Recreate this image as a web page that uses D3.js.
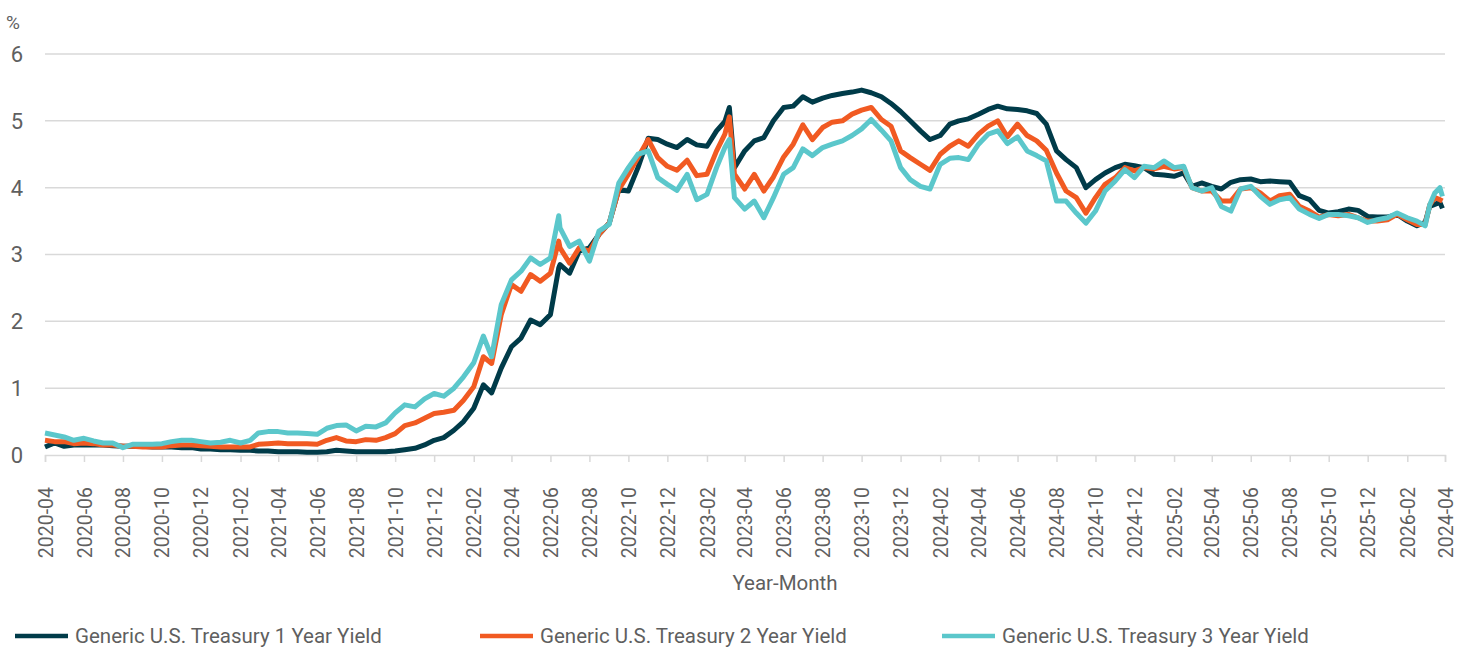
<!DOCTYPE html>
<html>
<head>
<meta charset="utf-8">
<script src="https://cdn.jsdelivr.net/npm/d3@7"></script>
<style>
  body { margin: 0; background: #fff; }
  svg text { font-family: Roboto, "Noto Sans", sans-serif; fill: #5f5f5f; }
</style>
</head>
<body>
<script>
// data (semi-monthly samples plus a few spike dates)
const dates = [
  "2020-04-01","2020-04-16","2020-05-01","2020-05-16","2020-06-01","2020-06-16","2020-07-01","2020-07-16",
  "2020-08-01","2020-08-16","2020-09-01","2020-09-16","2020-10-01","2020-10-16","2020-11-01","2020-11-16",
  "2020-12-01","2020-12-16","2021-01-01","2021-01-16","2021-02-01","2021-02-16","2021-03-01","2021-03-16",
  "2021-04-01","2021-04-16","2021-05-01","2021-05-16","2021-06-01","2021-06-16","2021-07-01","2021-07-16",
  "2021-08-01","2021-08-16","2021-09-01","2021-09-16","2021-10-01","2021-10-16","2021-11-01","2021-11-16",
  "2021-12-01","2021-12-16","2022-01-01","2022-01-16","2022-02-01","2022-02-16","2022-03-01","2022-03-16",
  "2022-04-01","2022-04-16","2022-05-01","2022-05-16","2022-06-01","2022-06-14","2022-06-16","2022-07-01",
  "2022-07-16","2022-08-01","2022-08-16","2022-09-01","2022-09-16","2022-10-01","2022-10-16","2022-11-01",
  "2022-11-16","2022-12-01","2022-12-16","2023-01-01","2023-01-16","2023-02-01","2023-02-16","2023-03-01",
  "2023-03-08","2023-03-16","2023-04-01","2023-04-16","2023-05-01","2023-05-16","2023-06-01","2023-06-16",
  "2023-07-01","2023-07-16","2023-08-01","2023-08-16","2023-09-01","2023-09-16","2023-10-01","2023-10-16",
  "2023-11-01","2023-11-16","2023-12-01","2023-12-16","2024-01-01","2024-01-16","2024-02-01","2024-02-16",
  "2024-03-01","2024-03-16","2024-04-01","2024-04-16","2024-05-01","2024-05-16","2024-06-01","2024-06-16",
  "2024-07-01","2024-07-16","2024-08-01","2024-08-16","2024-09-01","2024-09-16","2024-10-01","2024-10-16",
  "2024-11-01","2024-11-16","2024-12-01","2024-12-16","2025-01-01","2025-01-16","2025-02-01","2025-02-16",
  "2025-03-01","2025-03-16","2025-04-01","2025-04-16","2025-05-01","2025-05-16","2025-06-01","2025-06-16",
  "2025-07-01","2025-07-16","2025-08-01","2025-08-16","2025-09-01","2025-09-16","2025-10-01","2025-10-16",
  "2025-11-01","2025-11-16","2025-12-01","2025-12-16","2026-01-01","2026-01-16","2026-02-01","2026-02-16",
  "2026-03-01","2026-03-08","2026-03-16","2026-03-24","2026-03-28"
];
const yield1Y = [
  0.12,0.18,0.13,0.15,0.15,0.15,0.15,0.14, 0.13,0.13,0.13,0.12,0.12,0.12,0.11,0.11,
  0.09,0.09,0.08,0.08,0.07,0.07,0.06,0.06, 0.05,0.05,0.05,0.04,0.04,0.05,0.07,0.06,
  0.05,0.05,0.05,0.05,0.06,0.08,0.10,0.15, 0.22,0.26,0.37,0.50,0.70,1.05,0.93,1.30,
  1.62,1.75,2.02,1.95,2.10,2.80,2.85,2.72, 3.05,3.10,3.30,3.47,3.97,3.95,4.30,4.74,
  4.72,4.65,4.60,4.72,4.64,4.62,4.85,4.99, 5.20,4.30,4.55,4.70,4.75,5.00,5.20,5.22,
  5.36,5.28,5.34,5.38,5.41,5.43,5.46,5.42, 5.36,5.26,5.14,5.00,4.85,4.72,4.78,4.95,
  5.00,5.03,5.10,5.17,5.22,5.18,5.17,5.15, 5.11,4.95,4.55,4.42,4.30,4.00,4.12,4.22,
  4.30,4.35,4.33,4.30,4.20,4.19,4.17,4.22, 4.02,4.07,4.02,3.98,4.08,4.12,4.13,4.09,
  4.10,4.09,4.08,3.88,3.82,3.66,3.62,3.64, 3.68,3.66,3.57,3.56,3.56,3.60,3.50,3.43,
  3.48,3.72,3.75,3.78,3.69
];
const yield2Y = [
  0.22,0.20,0.20,0.17,0.18,0.17,0.15,0.15, 0.13,0.13,0.12,0.12,0.12,0.14,0.15,0.15,
  0.14,0.13,0.12,0.12,0.12,0.12,0.16,0.17, 0.18,0.17,0.17,0.17,0.16,0.22,0.26,0.21,
  0.20,0.23,0.22,0.26,0.32,0.44,0.48,0.55, 0.62,0.64,0.67,0.82,1.02,1.47,1.37,2.10,
  2.55,2.45,2.70,2.60,2.72,3.20,3.10,2.87, 3.10,3.05,3.30,3.47,3.97,4.20,4.45,4.72,
  4.45,4.32,4.26,4.41,4.18,4.20,4.55,4.80, 5.06,4.20,3.98,4.20,3.95,4.16,4.46,4.65,
  4.94,4.72,4.90,4.98,5.00,5.10,5.16,5.20, 5.02,4.92,4.55,4.45,4.35,4.26,4.50,4.62,
  4.70,4.62,4.80,4.92,5.00,4.76,4.95,4.78, 4.70,4.56,4.22,3.95,3.85,3.62,3.85,4.05,
  4.15,4.30,4.25,4.30,4.28,4.32,4.28,4.30, 4.00,3.95,3.95,3.80,3.80,3.98,4.00,3.92,
  3.80,3.88,3.90,3.72,3.65,3.56,3.60,3.58, 3.60,3.55,3.50,3.50,3.52,3.60,3.52,3.45,
  3.45,3.74,3.85,3.82,3.80
];
const yield3Y = [
  0.33,0.30,0.27,0.22,0.25,0.21,0.18,0.18, 0.11,0.16,0.16,0.16,0.17,0.20,0.22,0.22,
  0.20,0.18,0.19,0.22,0.18,0.22,0.33,0.35, 0.35,0.33,0.33,0.32,0.31,0.40,0.44,0.45,
  0.36,0.43,0.42,0.48,0.63,0.75,0.72,0.84, 0.92,0.88,1.00,1.17,1.38,1.78,1.47,2.25,
  2.62,2.75,2.95,2.85,2.95,3.58,3.40,3.12, 3.20,2.90,3.35,3.45,4.07,4.30,4.50,4.55,
  4.15,4.05,3.96,4.20,3.82,3.90,4.30,4.60, 4.72,3.85,3.68,3.80,3.55,3.85,4.20,4.30,
  4.58,4.48,4.60,4.65,4.70,4.78,4.88,5.02, 4.86,4.70,4.30,4.12,4.02,3.98,4.35,4.44,
  4.45,4.42,4.65,4.80,4.85,4.66,4.76,4.55, 4.48,4.40,3.80,3.80,3.62,3.47,3.65,3.95,
  4.10,4.27,4.15,4.32,4.30,4.40,4.30,4.32, 4.00,3.95,4.00,3.72,3.65,3.98,4.02,3.87,
  3.75,3.82,3.85,3.68,3.60,3.54,3.60,3.60, 3.58,3.55,3.48,3.52,3.55,3.62,3.55,3.50,
  3.43,3.74,3.92,4.00,3.87
];
const seriesNames = ["Generic U.S. Treasury 1 Year Yield", "Generic U.S. Treasury 2 Year Yield", "Generic U.S. Treasury 3 Year Yield"];
const seriesColors = ["#003b49", "#f15a22", "#5bc7cb"];
const yTicks = [0, 1, 2, 3, 4, 5, 6];
// tick labels exactly as printed on the reference (last one included)
const xTickLabels = [
  "2020-04","2020-06","2020-08","2020-10","2020-12","2021-02","2021-04","2021-06","2021-08","2021-10",
  "2021-12","2022-02","2022-04","2022-06","2022-08","2022-10","2022-12","2023-02","2023-04","2023-06",
  "2023-08","2023-10","2023-12","2024-02","2024-04","2024-06","2024-08","2024-10","2024-12","2025-02",
  "2025-04","2025-06","2025-08","2025-10","2025-12","2026-02","2024-04"
];

const w = 1467;
const h = 648;
const plotLeft = 45, plotRight = 1445, plotTop = 54, plotBottom = 455;
const parse = d3.timeParse("%Y-%m-%d");

const svg = d3.select('body')
              .append('svg')
              .attr('width', w)
              .attr('height', h);

const xScale = d3.scaleTime()
                 .domain([new Date(2020, 3, 1), new Date(2026, 3, 1)])
                 .range([plotLeft, plotRight]);
const yScale = d3.scaleLinear()
                 .domain([0, 6])
                 .range([plotBottom, plotTop]);

// gridlines
svg.append('g')
   .selectAll('line')
   .data(yTicks.filter(d => d > 0))
   .enter()
   .append('line')
   .attr('x1', plotLeft)
   .attr('x2', plotRight)
   .attr('y1', d => yScale(d))
   .attr('y2', d => yScale(d))
   .attr('stroke', '#d9d9d9')
   .attr('stroke-width', 1.5);

// y labels
svg.append('g')
   .selectAll('text')
   .data(yTicks)
   .enter()
   .append('text')
   .attr('x', 23)
   .attr('y', d => yScale(d))
   .attr('dy', '0.36em')
   .attr('text-anchor', 'end')
   .style('font-size', '22px')
   .text(d => d);

svg.append('text')
   .attr('x', 6)
   .attr('y', 29)
   .style('font-size', '19px')
   .text('%');

// x axis
const tickDates = xTickLabels.map((d, i) => new Date(2020, 3 + 2 * i, 1));
const xAxis = d3.axisBottom(xScale)
                .tickValues(tickDates)
                .tickSize(7)
                .tickFormat((d, i) => xTickLabels[i]);
const gx = svg.append('g')
              .attr('transform', 'translate(0,' + plotBottom + ')')
              .call(xAxis);
gx.select('.domain').attr('stroke', '#d9d9d9').attr('stroke-width', 1.5);
gx.selectAll('.tick line').attr('stroke', '#d9d9d9').attr('stroke-width', 1.5);
gx.selectAll('.tick text')
  .attr('transform', 'rotate(-90)')
  .attr('x', -32)
  .attr('y', 0)
  .attr('dy', '0.36em')
  .attr('text-anchor', 'end')
  .attr('fill', '#5f5f5f')
  .style('font-size', '19.5px')
  .style('font-family', 'Roboto, sans-serif');

svg.append('text')
   .attr('x', 785)
   .attr('y', 590)
   .attr('text-anchor', 'middle')
   .style('font-size', '20.5px')
   .text('Year-Month');

// lines
const series = [yield1Y, yield2Y, yield3Y];
const line = d3.line()
               .x(d => xScale(d.date))
               .y(d => yScale(d.value));
series.forEach((vals, k) => {
  const rows = dates.map((d, i) => ({ date: parse(d), value: vals[i] }));
  svg.append('path')
     .datum(rows)
     .attr('d', line)
     .attr('fill', 'none')
     .attr('stroke', seriesColors[k])
     .attr('stroke-width', 5)
     .attr('stroke-linejoin', 'round');
});

// legend
const legendX = [15, 480, 942];
const lg = svg.append('g')
              .selectAll('g')
              .data(seriesNames)
              .enter()
              .append('g')
              .attr('transform', (d, i) => 'translate(' + legendX[i] + ',636)');
lg.append('line')
  .attr('x1', 0)
  .attr('x2', 53)
  .attr('stroke', (d, i) => seriesColors[i])
  .attr('stroke-width', 4.5);
lg.append('text')
  .attr('x', 60)
  .attr('dy', '0.36em')
  .style('font-size', '20.5px')
  .text(d => d);
</script>
</body>
</html>
